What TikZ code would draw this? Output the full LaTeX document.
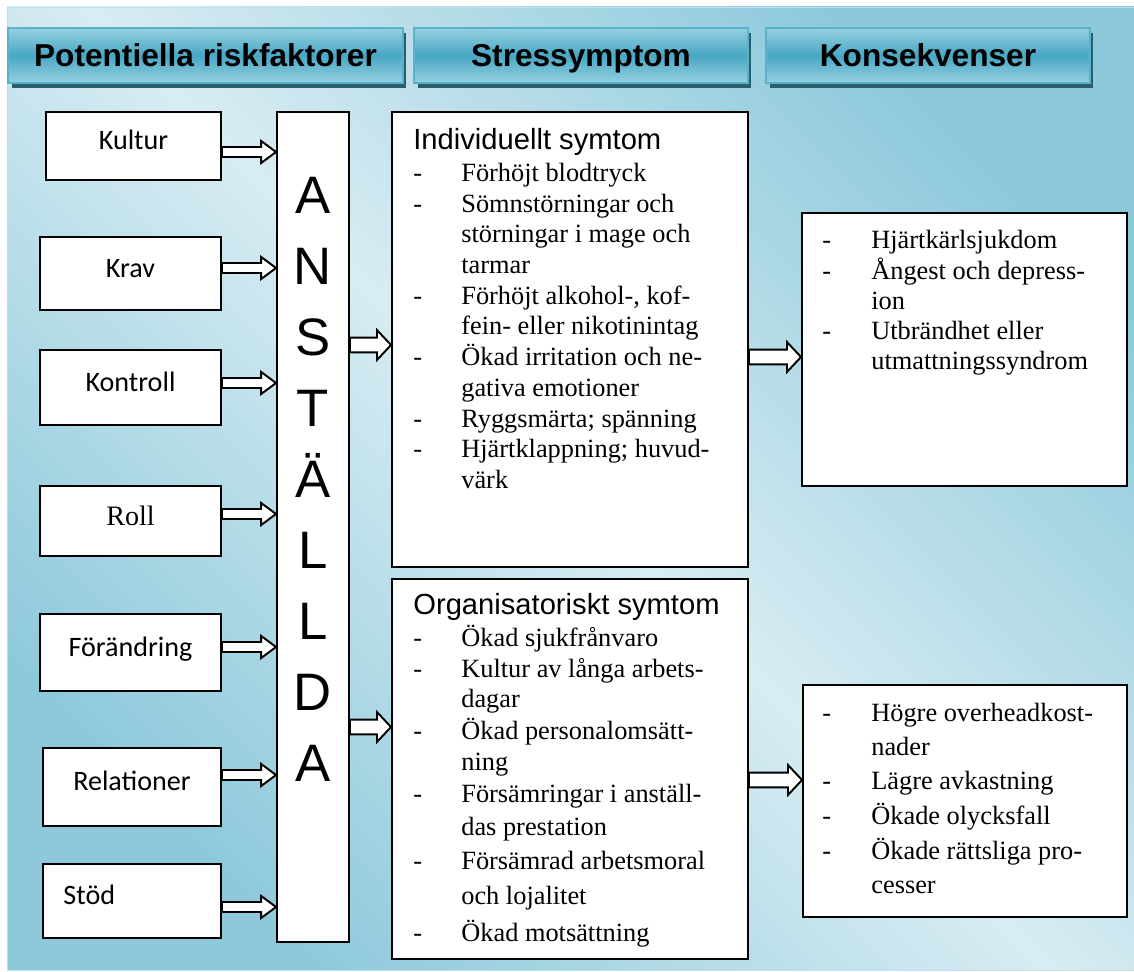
\documentclass[tikz,border=0pt]{standalone}
\usepackage{fontspec}
\setmainfont{Liberation Serif}
\newfontfamily\arialfont{Liberation Sans}
\newfontfamily\calibrifont{Carlito}
\usetikzlibrary{calc,fit,shadows}

\definecolor{bglight}{RGB}{216,236,243}
\definecolor{bgdark}{RGB}{141,201,219}
\definecolor{bgedge}{RGB}{190,225,235}
\definecolor{hdrlight}{RGB}{150,208,224}
\definecolor{hdrdark}{RGB}{72,167,196}
\definecolor{hdrborder}{RGB}{88,178,204}
\definecolor{hdrshadow}{RGB}{42,94,108}

% one pixel of the layout grid
\def\px{0.5690551pt}

\tikzset{
	lbox/.style={draw, fill=white, line width=1.1pt, inner sep=0pt, font=\calibrifont\fontsize{16}{18}\selectfont, text height=10.3pt, text depth=6pt},
	rollbox/.style={lbox, font=\fontsize{16}{18}\selectfont, text height=10.6pt},
	stodbox/.style={lbox, text width=78pt, align=left},
	symbox/.style={draw, fill=white, line width=1.1pt, inner sep=0pt},
	hdr/.style={draw=hdrborder, line width=1pt, inner sep=0pt, minimum height=55*\px, top color=hdrlight, bottom color=hdrlight, middle color=hdrdark, font=\arialfont\bfseries\fontsize{18}{20}\selectfont, text height=13pt, text depth=0pt, drop shadow={shadow xshift=2pt, shadow yshift=-3pt, fill=hdrshadow, opacity=1}},
	bigletter/.style={inner sep=0pt, font=\arialfont\fontsize{30}{30}\selectfont, text height=21.5pt, text depth=0pt},
	symhead/.style={anchor=base west, inner sep=0pt, font=\arialfont\fontsize{16.6}{18}\selectfont},
	itemtext/.style={anchor=base west, inner sep=0pt, font=\fontsize{15}{17}\selectfont},
	fatarrow/.style n args={3}{draw, fill=white, line width=1.1pt, to path={let \p1=(\tikztostart), \p2=(\tikztotarget) in
		(\x1,\y1+#1) -- (\x2-#3,\y1+#1) -- (\x2-#3,\y1+#2) -- (\x2,\y1) -- (\x2-#3,\y1-#2) -- (\x2-#3,\y1-#1) -- (\x1,\y1-#1) -- cycle}},
	leftarrow/.style={fatarrow={2.85pt}{6.3pt}{8.5pt}},
	bigarrow/.style={fatarrow={4.2pt}{8.5pt}{8pt}},
}

\begin{document}
\begin{tikzpicture}[
		x={(0.02cm,0cm)},
		y={(0cm,-0.02cm)},
	]
		\useasboundingbox (0,0) rectangle (1134,972);
		\draw[draw=bgedge, top color=bgdark, bottom color=bgdark, middle color=bglight, shading angle=-45] (7,7) rectangle (1134,970);
		
		% column headers
		\node[hdr, minimum width=395*\px] (hrisk) at (205.5,55.5) {Potentiella riskfaktorer};
		\node[hdr, minimum width=334*\px] (hstress) at (581,55.5) {Stressymptom};
		\node[hdr, minimum width=324*\px] (hkons) at (928,55.5) {Konsekvenser};
		
		\node[symbox, fit={(277,112) (349,942)}] (anst) {};
		\foreach \l [count=\i] in {A,N,S,T,Ä,L,L,D,A}{
			\node[bigletter] (anst\i) at (313,{195+70.9*(\i-1)}) {\l};
		}
		
		\foreach \n/\t/\xa/\ya/\yb/\ay/\st in {kultur/Kultur/46/112/180/152/lbox, krav/Krav/40/237/310/268/lbox, kontroll/Kontroll/40/350/425/383/lbox, roll/Roll/40/486/556/514/rollbox, forandring/Förändring/40/614/691/647/lbox, relationer/Relationer/43/748/826/775/lbox, stod/Stöd/43/864/938/907/stodbox}{
			\node[\st, minimum width={(221-\xa)*\px}, minimum height={(\yb-\ya)*\px}] (\n) at ({(\xa+221)/2},{(\ya+\yb)/2}) {\t};
			\draw[leftarrow] (\n.east |- 0,\ay) to (anst.west);
		}
		
		\node[symbox, fit={(392,112) (748,567)}] (indiv) {};
		\node[symbox, fit={(392,579) (748,959)}] (org) {};
		\node[symbox, fit={(802,213) (1127,486)}] (kons1) {};
		\node[symbox, fit={(803,685) (1127,917)}] (kons2) {};
		
		\draw[bigarrow] (anst.east |- 0,345) to (indiv.west);
		\draw[bigarrow] (anst.east |- 0,727) to (org.west);
		\draw[bigarrow] (indiv.east |- 0,357) to (kons1.west);
		\draw[bigarrow] (org.east |- 0,780) to (kons2.west);
		
		\node[symhead] (indivhead) at (413,150) {Individuellt symtom};
		\foreach \y/\d/\t [count=\i] in {182/-/Förhöjt blodtryck, 213/-/Sömnstörningar och, 243//störningar i mage och, 274//tarmar, {305/-/Förhöjt alkohol-, kof-}, 335//fein- eller nikotinintag, 366/-/Ökad irritation och ne-, 397//gativa emotioner, 428/-/Ryggsmärta; spänning, 458/-/Hjärtklappning; huvud-, 489//värk}{
			\node[itemtext] (ida\i) at (413,\y) {\d};
			\node[itemtext] (idb\i) at (461,\y) {\t};
		}
		
		\node[symhead] (orghead) at (413,615) {Organisatoriskt symtom};
		\foreach \y/\d/\t [count=\i] in {647/-/Ökad sjukfrånvaro, 678/-/Kultur av långa arbets-, 708//dagar, 740/-/Ökad personalomsätt-, 771//ning, 803/-/Försämringar i anställ-, 836//das prestation, 870/-/Försämrad arbetsmoral, 905//och lojalitet, 942/-/Ökad motsättning}{
			\node[itemtext] (oga\i) at (413,\y) {\d};
			\node[itemtext] (ogb\i) at (461,\y) {\t};
		}
		
		\foreach \y/\d/\t [count=\i] in {249/-/Hjärtkärlsjukdom, 280/-/Ångest och depress-, 310//ion, 340/-/Utbrändhet eller, 370//utmattningssyndrom}{
			\node[itemtext] (ksa\i) at (822,\y) {\d};
			\node[itemtext] (ksb\i) at (871,\y) {\t};
		}
		\foreach \y/\d/\t [count=\i] in {722/-/Högre overheadkost-, 756//nader, 790/-/Lägre avkastning, 825/-/Ökade olycksfall, 860/-/Ökade rättsliga pro-, 894//cesser}{
			\node[itemtext] (kta\i) at (822,\y) {\d};
			\node[itemtext] (ktb\i) at (871,\y) {\t};
		}
	\end{tikzpicture}
\end{document}
